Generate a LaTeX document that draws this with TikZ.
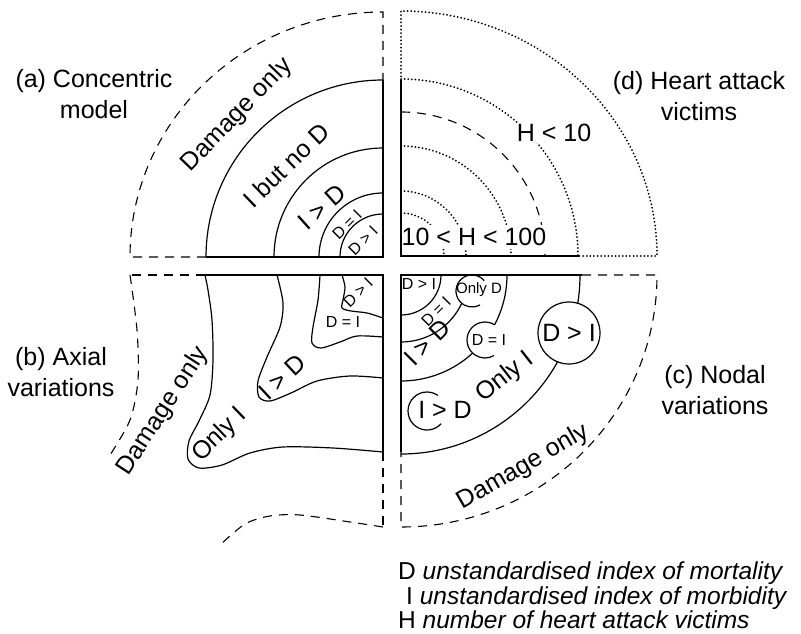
\documentclass[tikz,border=0pt]{standalone}
\usepackage{fontspec}
\setmainfont{Liberation Sans}
\tikzset{
  ln/.style={line width=1.2pt},
  dsh/.style={line width=1.1pt, dash pattern=on 9pt off 7pt},
  dtt/.style={line width=2pt, dash pattern=on 0pt off 3.6pt, line cap=round},
  big/.style={font=\fontsize{25}{31}\selectfont, inner sep=0pt},
  sml/.style={font=\fontsize{16}{18}\selectfont, inner sep=0pt},
  tny/.style={font=\fontsize{15}{16}\selectfont, inner sep=0pt},
  ttl/.style={font=\fontsize{25}{31}\selectfont, align=center, inner sep=0pt},
  leg/.style={font=\fontsize{24.5}{28}\selectfont, inner sep=0pt, anchor=base west},
}
\begin{document}
\begin{tikzpicture}[x=1pt,y=1pt]
\useasboundingbox (0,0) rectangle (801,-634);
% ---------- (a) concentric ----------
\coordinate (A) at (383,-257);
\coordinate (Atop) at (383,-80);
\coordinate (Aleft) at (206,-257);
\draw[dsh] (Aleft) -- (130,-257) arc[start angle=180,end angle=90,x radius=253,y radius=245] -- (Atop);
\foreach \rr in {43,64,109,177} \draw[ln] (A) ++(90:\rr) arc[start angle=90,end angle=180,radius=\rr];
\draw[ln] (Atop) -- (A) -- (Aleft);
\node[big,rotate=46] (aDam) at (237,-115) {Damage only};
\node[big,rotate=44] (aIbut) at (286,-165) {I but no D};
\node[big,rotate=42] (aIgD) at (322,-207) {I > D};
\node[sml,rotate=45] (aDeI) at (347,-225) {D = I};
\node[sml,rotate=45] (aDgI) at (363,-241) {D > I};
\node[ttl] (atitle) at (94,-94) {(a) Concentric\\model};
% ---------- (d) heart attack ----------
\coordinate (Dd) at (401,-256);
\coordinate (Dtop) at (401,-80);
\coordinate (Dright) at (580,-256);
\foreach \rr in {43,65,110,177} \draw[dtt] (Dd) ++(90:\rr) arc[start angle=90,end angle=0,radius=\rr];
\draw[dsh] (Dd) ++(90:144) arc[start angle=90,end angle=0,radius=144];
\draw[dtt] (Dtop) -- (401,-11) arc[start angle=90,end angle=0,x radius=256,y radius=245] -- (Dright);
\node[big,fill=white,inner xsep=1pt,inner ysep=3pt] (dH100) at (474,-237) {10 < H < 100};
\node[big,fill=white,inner sep=1pt] (dH10) at (554,-133) {H < 10};
\draw[ln] (Dtop) -- (Dd) -- (Dright);
\node[ttl] (dtitle) at (699,-96) {(d) Heart attack\\victims};
% ---------- (b) axial ----------
\coordinate (B) at (383,-275);
\coordinate (Bleft) at (205,-275);
\coordinate (Bbot) at (383,-452);
\draw[dsh] (Bleft) -- (130,-275);
\draw[dsh] plot[smooth] coordinates {(130,-275) (137,-330) (138,-380) (130,-420) (110,-455)};
\draw[dsh] (Bbot) -- (383,-527);
\draw[dsh] plot[smooth] coordinates {(383,-527) (350,-522) (300,-515) (270,-516) (245,-524) (220,-545)};
\draw[ln] (Bleft) -- (B) -- (Bbot);
\draw[ln] plot[smooth] coordinates {(205,-275) (208,-290) (212,-320) (213,-360) (210,-395) (199,-421) (189,-441) (188,-459) (199,-468) (222,-465) (250,-453) (283,-447) (333,-448) (383,-452)};
\draw[ln] plot[smooth] coordinates {(277,-275) (283,-303) (280,-327) (267,-357) (258,-381) (259,-397) (270,-401) (291,-393) (317,-381) (350,-376) (383,-378)};
\draw[ln] plot[smooth] coordinates {(320,-275) (318,-300) (313,-327) (312,-343) (321,-348) (340,-342) (357,-336) (383,-337)};
\draw[ln] plot[smooth] coordinates {(342,-275) (345,-287) (343,-300) (342,-308) (351,-311) (367,-313) (383,-318)};
\node[big,rotate=57] (bDam) at (163,-411) {Damage only};
\node[big,rotate=44] (bOnlyI) at (220,-435) {Only I};
\node[big,rotate=43] (bIgD) at (282,-377) {I > D};
\node[sml] (bDeI) at (343,-322) {D = I};
\node[sml,rotate=45] (bDgI) at (358,-293) {D > I};
\node[ttl] (btitle) at (61,-372) {(b) Axial\\variations};
% ---------- (c) nodal ----------
\coordinate (C) at (401,-275);
\coordinate (Cright) at (582,-275);
\coordinate (Cbot) at (401,-452);
\draw[dsh] (Cright) -- (657,-275) arc[start angle=0,end angle=-90,x radius=256,y radius=252] -- (Cbot);
\draw[ln] (C) ++(0:40) arc[start angle=0,end angle=-90,radius=40];
\draw[ln] (C) ++(-25:67) arc[start angle=-25,end angle=-90,radius=67];
\draw[ln] (C) ++(0:106) arc[start angle=0,end angle=-27.9,radius=106];
\draw[ln] (C) ++(-47.5:106) arc[start angle=-47.5,end angle=-90,radius=106];
\draw[ln] (C) ++(0:179) arc[start angle=0,end angle=-90,radius=179];
\draw[ln] (Cright) -- (C) -- (Cbot);
% bubbles
\coordinate (cbOD) at (472,-291);
\coordinate (cbDI) at (485,-340);
\coordinate (cbID) at (427,-411);
\draw[ln] (cbOD) ++(40:16) arc[start angle=40,end angle=300,radius=16];
\draw[ln] (cbDI) ++(57.8:18) arc[start angle=57.8,end angle=300,radius=18];
\draw[ln] (cbID) ++(55:19) arc[start angle=55,end angle=318,radius=19];
\node[circle,draw,ln,fill=white,minimum size=62pt,inner sep=0pt,big] (cDgI) at (569,-333) {D > I};
\node[tny] (cOnlyD) at (479,-290) {Only D};
\node[sml] (cDeI2) at (489,-340) {D = I};
\node[big] (cIgD2) at (445,-410) {I > D};
\node[sml] (cDgI0) at (419,-284) {D > I};
\node[sml,rotate=45] (cDeI) at (436,-312) {D = I};
\node[big,rotate=45] (cIgD) at (427,-343) {I > D};
\node[big,rotate=38] (cOnlyI) at (505,-377) {Only I};
\node[big,rotate=30] (cDam) at (523,-467) {Damage only};
\node[ttl] (ctitle) at (715,-390) {(c) Nodal\\variations};
% ---------- legend ----------
\node[leg] (l1) at (398,-579) {D \textit{unstandardised index of mortality}};
\node[leg] (l2) at (406,-604) {I \textit{unstandardised index of morbidity}};
\node[leg] (l3) at (398,-628) {H \textit{number of heart attack victims}};
\end{tikzpicture}
\end{document}
